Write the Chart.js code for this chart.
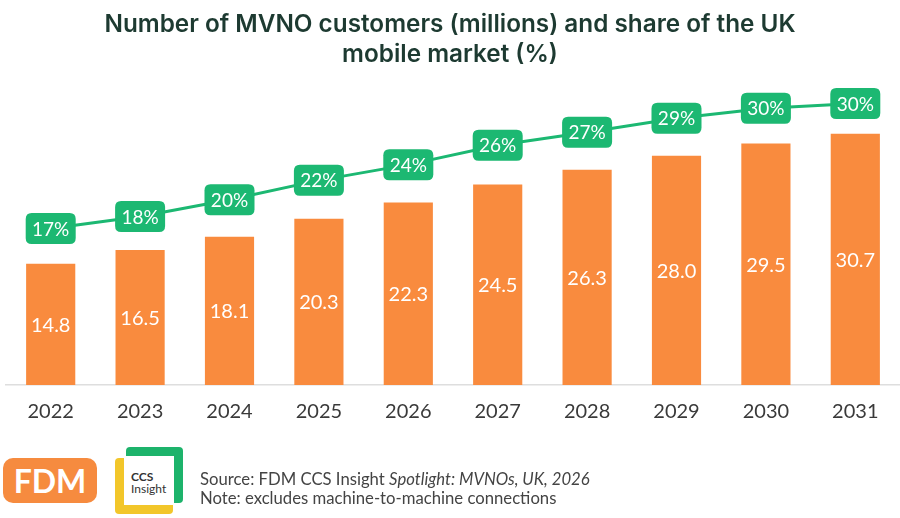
<!DOCTYPE html>
<html>
<head>
<meta charset="utf-8">
<script src="https://cdn.jsdelivr.net/npm/chart.js@4/dist/chart.umd.min.js"></script>
<style>
  body { margin: 0; background: #fff; font-family: Lato, sans-serif; }
  #wrap { position: relative; width: 900px; height: 518px; overflow: hidden; }
  #grafica { position: absolute; left: 0; top: 0; }
  .titulo { position: absolute; left: 0; width: 900px; text-align: center; color: #1d3a31;
            font-family: Inter, sans-serif; font-weight: 600; font-size: 24.3px; line-height: 30px; top: 8px; }
  .fdm { position: absolute; left: 3px; top: 458px; width: 94px; height: 45px; border-radius: 10px;
         background: #f68b3f; color: #fff; font: bold 32px Lato, sans-serif; text-align: center; line-height: 46px; }
  .ccs-y { position: absolute; left: 115px; top: 458px; width: 58px; height: 56px; background: #f2c62a; border-radius: 4px; }
  .ccs-g { position: absolute; left: 126px; top: 447px; width: 57px; height: 56px; background: #1db36b; border-radius: 4px; }
  .ccs-w { position: absolute; left: 124px; top: 456px; width: 50px; height: 49px; background: #fff; }
  .ccs-t { position: absolute; left: 131px; top: 471px; font-size: 12px; line-height: 12px; color: #333; }
  .fuente { position: absolute; left: 200px; top: 470px; font-size: 16.7px; line-height: 19px; color: #444; }
</style>
</head>
<body>
<div id="wrap">
  <canvas id="grafica" width="900" height="518"></canvas>
  <div class="titulo">Number of MVNO customers (millions) and share of the UK<br>mobile market (%)</div>
  <div class="fdm">FDM</div>
  <div class="ccs-y"></div>
  <div class="ccs-g"></div>
  <div class="ccs-w"></div>
  <div class="ccs-t"><b>CCS</b><br>Insight</div>
  <div class="fuente">Source: FDM CCS Insight <i>Spotlight: MVNOs, UK, 2026</i><br>Note: excludes machine-to-machine connections</div>
</div>
<script>
// datos
const years = ["2022", "2023", "2024", "2025", "2026", "2027", "2028", "2029", "2030", "2031"];
const customers = [14.8, 16.5, 18.1, 20.3, 22.3, 24.5, 26.3, 28.0, 29.5, 30.7];
// cuota estimada (la etiqueta muestra el valor redondeado)
const share = [16.9, 18.2, 20.0, 22.1, 23.8, 25.9, 27.3, 28.8, 29.9, 30.4];

const naranja = "#f98b3e";
const verde = "#1cb872";

function roundRect(ctx, x, y, w, h, r) {
  ctx.beginPath();
  ctx.moveTo(x + r, y);
  ctx.lineTo(x + w - r, y);
  ctx.quadraticCurveTo(x + w, y, x + w, y + r);
  ctx.lineTo(x + w, y + h - r);
  ctx.quadraticCurveTo(x + w, y + h, x + w - r, y + h);
  ctx.lineTo(x + r, y + h);
  ctx.quadraticCurveTo(x, y + h, x, y + h - r);
  ctx.lineTo(x, y + r);
  ctx.quadraticCurveTo(x, y, x + r, y);
  ctx.closePath();
}

// etiquetas dentro de las barras y cajas verdes sobre la linea
const etiquetas = {
  id: "etiquetas",
  afterDatasetsDraw(chart) {
    const ctx = chart.ctx;
    ctx.save();
    ctx.textAlign = "center";
    ctx.textBaseline = "middle";

    const barras = chart.getDatasetMeta(1);
    ctx.font = "20px Lato";
    ctx.fillStyle = "#fff";
    barras.data.forEach((el, i) => {
      ctx.fillText(customers[i].toFixed(1), el.x, (el.y + el.base) / 2 + 1);
    });

    const linea = chart.getDatasetMeta(0);
    linea.data.forEach((el, i) => {
      ctx.fillStyle = verde;
      roundRect(ctx, el.x - 25, el.y - 15.5, 50, 31, 6);
      ctx.fill();
      ctx.fillStyle = "#fff";
      ctx.font = "19px Lato";
      ctx.fillText(Math.round(share[i]) + "%", el.x, el.y + 1);
    });
    ctx.restore();
  }
};

const grafico = new Chart(document.getElementById("grafica"), {
  type: "bar",
  data: {
    labels: years,
    datasets: [
      {
        type: "line",
        label: "Share",
        data: share,
        yAxisID: "y2",
        borderColor: verde,
        borderWidth: 3,
        pointRadius: 0,
        tension: 0,
        order: 0,
      },
      {
        label: "Customers",
        data: customers,
        yAxisID: "y",
        backgroundColor: naranja,
        barPercentage: 0.55,
        categoryPercentage: 1,
        order: 1,
      },
    ],
  },
  options: {
    responsive: false,
    animation: false,
    layout: { padding: { top: 60, left: 6, right: 0, bottom: 0 } },
    plugins: { legend: { display: false }, tooltip: { enabled: false }, title: { display: false } },
    scales: {
      x: {
        grid: { display: false },
        border: { display: true, color: "#dedede", width: 1.5 },
        ticks: { color: "#3a3a3a", font: { family: "Lato", size: 20 }, padding: 7 },
        afterFit: (s) => { s.height = 133; },
      },
      y: { display: false, min: 0, max: 39.7 },
      y2: { display: false, min: 0, max: 35.1 },
    },
  },
  plugins: [etiquetas],
});
</script>
</body>
</html>
